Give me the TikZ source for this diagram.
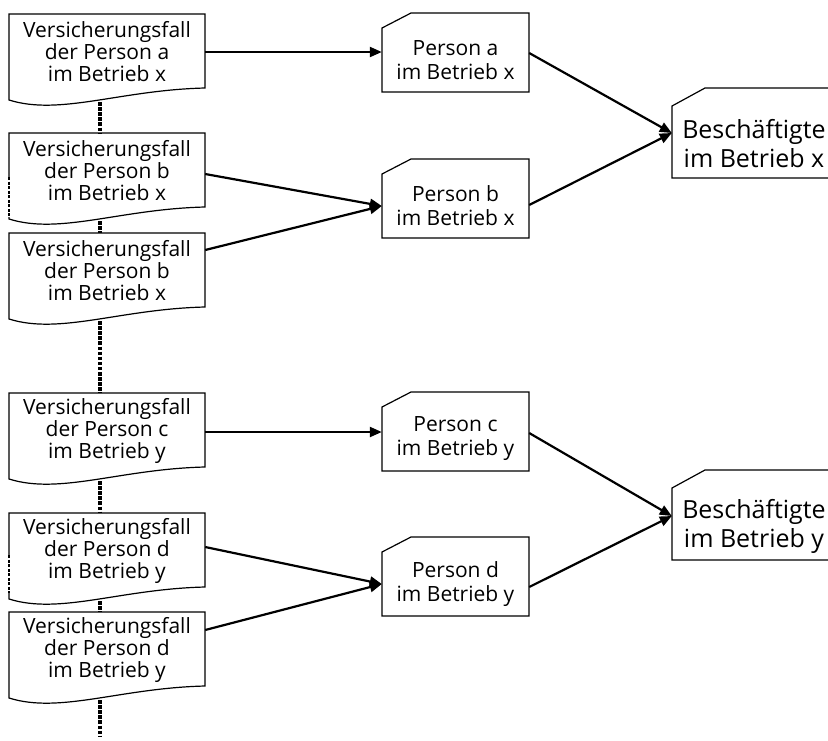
\documentclass[tikz,border=0pt]{standalone}
\usepackage{fontspec}
\setmainfont{Open Sans}
\usetikzlibrary{calc,arrows.meta}
\tikzset{
  docbox/.style={rectangle, minimum width=196pt, inner sep=0pt, align=center, font=\fontsize{21}{22}\selectfont},
  perbox/.style={rectangle, minimum width=147pt, inner sep=0pt, align=center, font=\fontsize{21}{24}\selectfont},
  bigbox/.style={rectangle, minimum width=164pt, inner sep=0pt, align=center, font=\fontsize{25}{29}\selectfont},
  outline/.style={draw=black, line width=1.2pt, line join=miter},
  flow/.style={line width=2.2pt, -{Triangle[length=12pt,width=10pt]}},
  dots/.style={line width=3.6pt, dash pattern=on 3.5pt off 1.6pt},
}
% document shape around a text node (center = text centre)
\newcommand\docshape[1]{%
  \draw[outline] ($(#1.center)+(-98pt,-48pt)$) -- ($(#1.center)+(-98pt,38pt)$)
    -- ($(#1.center)+(98pt,38pt)$) -- ($(#1.center)+(98pt,-36pt)$)
    .. controls ($(#1.center)+(13pt,-38pt)$) and ($(#1.center)+(-47pt,-64pt)$)
    .. ($(#1.center)+(-98pt,-48pt)$) -- cycle;}
% box with cut top-left corner: name, half width, top offset, bottom offset, cut x, cut y
\newcommand\cutshape[6]{%
  \draw[outline] ($(#1.center)+(-#2,-#4)$) -- ($(#1.center)+(-#2,#3-#6)$)
    -- ($(#1.center)+(-#2+#5,#3)$) -- ($(#1.center)+(#2,#3)$)
    -- ($(#1.center)+(#2,-#4)$) -- cycle;}
\begin{document}
\begin{tikzpicture}[x=1pt,y=-1pt]
\useasboundingbox (0,0) rectangle (828,740);

% left column: documents
\node[docbox] (da)  at (107,52)  {Versicherungsfall\\der Person a\\im Betrieb x};
\node[docbox] (db1) at (107,171) {Versicherungsfall\\der Person b\\im Betrieb x};
\node[docbox] (db2) at (107,271) {Versicherungsfall\\der Person b\\im Betrieb x};
\node[docbox] (dc)  at (107,431) {Versicherungsfall\\der Person c\\im Betrieb y};
\node[docbox] (dd1) at (107,551) {Versicherungsfall\\der Person d\\im Betrieb y};
\node[docbox] (dd2) at (107,650) {Versicherungsfall\\der Person d\\im Betrieb y};
\foreach \n in {da,db1,db2,dc,dd1,dd2} {\docshape{\n}}

% middle column: persons
\node[perbox] (pa) at (455.5,60)  {Person a\\im Betrieb x};
\node[perbox] (pb) at (455.5,206) {Person b\\im Betrieb x};
\node[perbox] (pc) at (455.5,439) {Person c\\im Betrieb y};
\node[perbox] (pd) at (455.5,584) {Person d\\im Betrieb y};
\foreach \n in {pa,pb,pc,pd} {\cutshape{\n}{73.5pt}{47pt}{32pt}{29pt}{15pt}}

% right column: employees
\node[bigbox] (bx) at (754,144) {Beschäftigte\\im Betrieb x};
\node[bigbox] (by) at (754,526) {Beschäftigte\\im Betrieb y};
\foreach \n in {bx,by} {\cutshape{\n}{82pt}{56pt}{34pt}{33pt}{18pt}}

% dotted links between documents
\coordinate (dend) at (100,737);
\draw[dots] ([xshift=-7pt,yshift=-50pt]da.center)  -- ([xshift=-7pt,yshift=38pt]db1.center);
\draw[dots] ([xshift=-7pt,yshift=-50pt]db1.center) -- ([xshift=-7pt,yshift=38pt]db2.center);
\draw[dots] ([xshift=-7pt,yshift=-50pt]db2.center) -- ([xshift=-7pt,yshift=38pt]dc.center);
\draw[dots] ([xshift=-7pt,yshift=-50pt]dc.center)  -- ([xshift=-7pt,yshift=38pt]dd1.center);
\draw[dots] ([xshift=-7pt,yshift=-50pt]dd1.center) -- ([xshift=-7pt,yshift=38pt]dd2.center);
\draw[dots] ([xshift=-7pt,yshift=-50pt]dd2.center) -- (dend);

% dotted left edges
\draw[white, line width=3pt] ([xshift=-98pt,yshift=-6pt]db1.center) -- ([xshift=-98pt,yshift=-46pt]db1.center);
\draw[line width=2.8pt, dash pattern=on 3pt off 1.5pt] ([xshift=-98pt,yshift=-6pt]db1.center) -- ([xshift=-98pt,yshift=-46pt]db1.center);
\draw[white, line width=3pt] ([xshift=-98pt,yshift=-4pt]dd1.center) -- ([xshift=-98pt,yshift=-42pt]dd1.center);
\draw[line width=2.8pt, dash pattern=on 3pt off 1.5pt] ([xshift=-98pt,yshift=-4pt]dd1.center) -- ([xshift=-98pt,yshift=-42pt]dd1.center);

% documents to persons
\draw[flow] ([yshift=0pt]da.east)   -- ([yshift=8pt]pa.west);
\draw[flow] ([yshift=-3pt]db1.east) -- (pb.west);
\draw[flow] ([yshift=21pt]db2.east) -- (pb.west);
\draw[flow] ([yshift=-1pt]dc.east)  -- ([yshift=7pt]pc.west);
\draw[flow] ([yshift=4pt]dd1.east)  -- (pd.west);
\draw[flow] ([yshift=20pt]dd2.east) -- (pd.west);

% persons to employees
\draw[flow] ([yshift=7pt]pa.east)  -- ([yshift=11pt]bx.west);
\draw[flow] ([yshift=1pt]pb.east)  -- ([yshift=11pt]bx.west);
\draw[flow] ([yshift=6pt]pc.east)  -- ([yshift=10pt]by.west);
\draw[flow] ([yshift=-3pt]pd.east) -- ([yshift=10pt]by.west);
\end{tikzpicture}
\end{document}
